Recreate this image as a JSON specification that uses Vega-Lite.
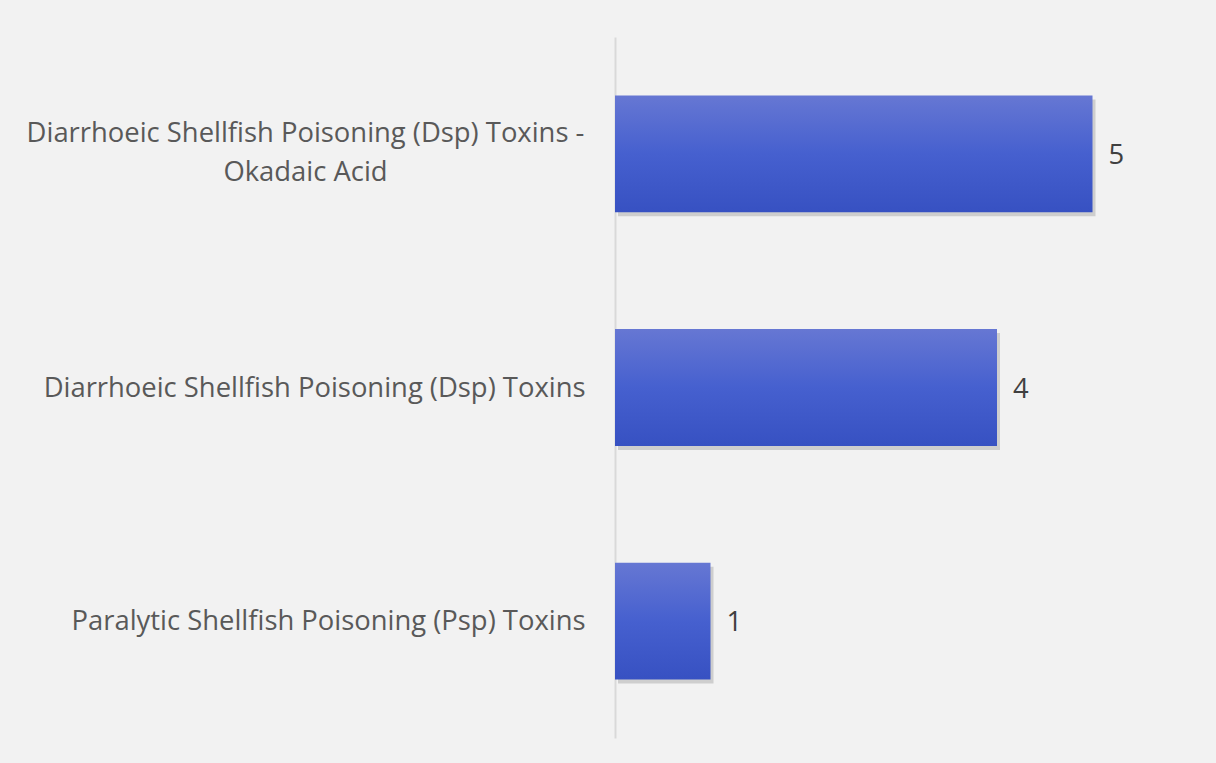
{
  "$schema": "https://vega.github.io/schema/vega-lite/v6.json",
  "autosize": "none",
  "width": 573,
  "height": 701,
  "padding": {"left": 615, "top": 37, "right": 28, "bottom": 25},
  "background": "#f2f2f2",
  "config": {"view": {"stroke": null}},
  "data": {"values": [
    {"toxin": "Diarrhoeic Shellfish Poisoning (Dsp) Toxins - Okadaic Acid", "count": 5},
    {"toxin": "Diarrhoeic Shellfish Poisoning (Dsp) Toxins", "count": 4},
    {"toxin": "Paralytic Shellfish Poisoning (Psp) Toxins", "count": 1}
  ]},
  "encoding": {
    "y": {"field": "toxin", "type": "nominal", "sort": null,
      "scale": {"paddingInner": 0.5, "paddingOuter": 0.25},
      "axis": {"title": null, "ticks": false, "domainColor": "#d9d9d9", "domainWidth": 2,
        "labelFont": "Open Sans", "labelFontSize": 27.4, "labelColor": "#595959", "labelLimit": 700,
        "labelPadding": {"expr": "datum.value == 'Diarrhoeic Shellfish Poisoning (Dsp) Toxins - Okadaic Acid' ? 310 : 30"},
        "labelAlign": {"expr": "datum.value == 'Diarrhoeic Shellfish Poisoning (Dsp) Toxins - Okadaic Acid' ? 'center' : 'right'"},
        "labelOffset": {"expr": "datum.value == 'Diarrhoeic Shellfish Poisoning (Dsp) Toxins - Okadaic Acid' ? -20 : 1"},
        "labelLineHeight": 39,
        "labelExpr": "datum.value == 'Diarrhoeic Shellfish Poisoning (Dsp) Toxins - Okadaic Acid' ? ['Diarrhoeic Shellfish Poisoning (Dsp) Toxins -', 'Okadaic Acid'] : datum.value"}},
    "x": {"field": "count", "type": "quantitative", "scale": {"domain": [0, 6]}, "axis": null}
  },
  "layer": [
    {"mark": {"type": "bar", "color": "#7a7a7a", "opacity": 0.3, "xOffset": 3, "yOffset": 4}},
    {"mark": {"type": "bar", "color": {"gradient": "linear", "x1": 0, "y1": 0, "x2": 0, "y2": 1,
      "stops": [{"offset": 0, "color": "#6677d3"}, {"offset": 0.5, "color": "#4660cf"}, {"offset": 1, "color": "#3751c2"}]}}},
    {"mark": {"type": "text", "align": "left", "baseline": "middle", "dx": 16, "dy": 2, "font": "Open Sans", "fontSize": 27.4, "color": "#404040"},
     "encoding": {"text": {"field": "count", "type": "quantitative"}}}
  ]
}
